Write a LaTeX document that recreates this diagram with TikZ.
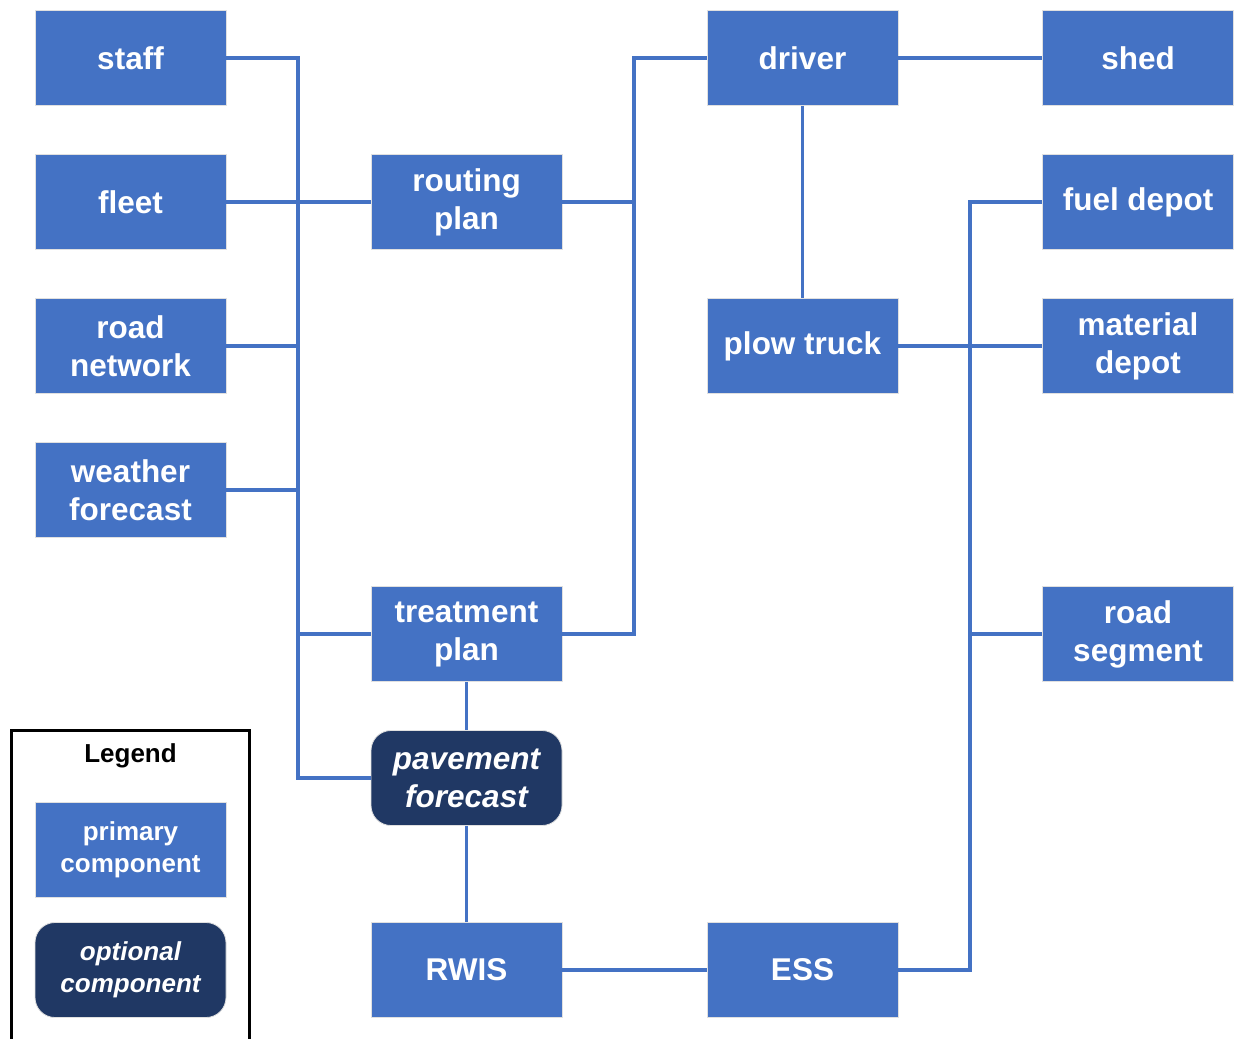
\documentclass[tikz,border=0pt]{standalone}
\usepackage{fontspec}
\setmainfont{Liberation Sans}
\begin{document}
\begin{tikzpicture}[x=1pt,y=-1pt,
  prim/.style={rectangle, fill=pblue, draw=black!12, line width=0.8pt, minimum width=191pt, minimum height=95pt, inner sep=0pt, align=center, text=white, font=\fontsize{31.5}{38}\selectfont\bfseries},
  opt/.style={prim, fill=pnavy, rounded corners=20pt, font=\fontsize{31.5}{38}\selectfont\bfseries\itshape},
  lprim/.style={prim, font=\fontsize{26}{32}\selectfont\bfseries},
  lopt/.style={opt, font=\fontsize{26}{32}\selectfont\bfseries\itshape},
  conn/.style={draw=pblue, line width=3.4pt},
]
\definecolor{pblue}{HTML}{4472C4}
\definecolor{pnavy}{HTML}{203864}
\useasboundingbox (0,0) rectangle (1235,1039);

% connectors' bus coordinates
\coordinate (lt) at (298,58);
\coordinate (lb) at (298,778);
\coordinate (mt) at (634,58);
\coordinate (mb) at (634,634);
\coordinate (rt) at (970,202);
\coordinate (rb) at (970,970);

% nodes
\node[prim] (staff)   at (130.5,58)  {staff};
\node[prim] (fleet)   at (130.5,202) {fleet};
\node[prim] (road)    at (130.5,346) {road\\network};
\node[prim] (weather) at (130.5,490) {weather\\forecast};

\node[prim] (routing) at (466.5,202) {routing\\plan};
\node[prim] (treat)   at (466.5,634) {treatment\\plan};
\node[opt]  (pav)     at (466.5,778) {pavement\\forecast};
\node[prim] (rwis)    at (466.5,970) {RWIS};

\node[prim] (driver)  at (802.5,58)  {driver};
\node[prim] (plow)    at (802.5,346) {plow truck};
\node[prim] (ess)     at (802.5,970) {ESS};

\node[prim] (shed)    at (1138,58)  {shed};
\node[prim] (fuel)    at (1138,202) {fuel depot};
\node[prim] (mat)     at (1138,346) {material\\depot};
\node[prim] (seg)     at (1138,634) {road\\segment};

% connectors
\draw[conn] (staff.east) -- (lt) -- (lb) -- (pav.west);
\draw[conn] (fleet.east) -- (routing.west);
\draw[conn] (road.east) -- (road.east -| lt);
\draw[conn] (weather.east) -- (weather.east -| lt);
\draw[conn] (treat.west) -- (treat.west -| lt);

\draw[conn] (driver.west) -- (mt) -- (mb) -- (treat.east);
\draw[conn] (routing.east) -- (routing.east -| mt);

\draw[conn] (fuel.west) -- (rt) -- (rb) -- (ess.east);
\draw[conn] (plow.east) -- (mat.west);
\draw[conn] (seg.west) -- (seg.west -| rt);

\draw[conn] (driver.south) -- (plow.north);
\draw[conn] (driver.east) -- (shed.west);
\draw[conn] (treat.south) -- (pav.north);
\draw[conn] (pav.south) -- (rwis.north);
\draw[conn] (rwis.east) -- (ess.west);

% legend
\draw[line width=3pt, black] (11.5,1045) -- (11.5,730.5) -- (249.5,730.5) -- (249.5,1045);
\node[font=\fontsize{26}{32}\selectfont\bfseries] (legtitle) at (130.5,756) {Legend};
\node[lprim] (lp) at (130.5,850) {primary\\component};
\node[lopt]  (lo) at (130.5,970) {optional\\component};
\end{tikzpicture}
\end{document}
